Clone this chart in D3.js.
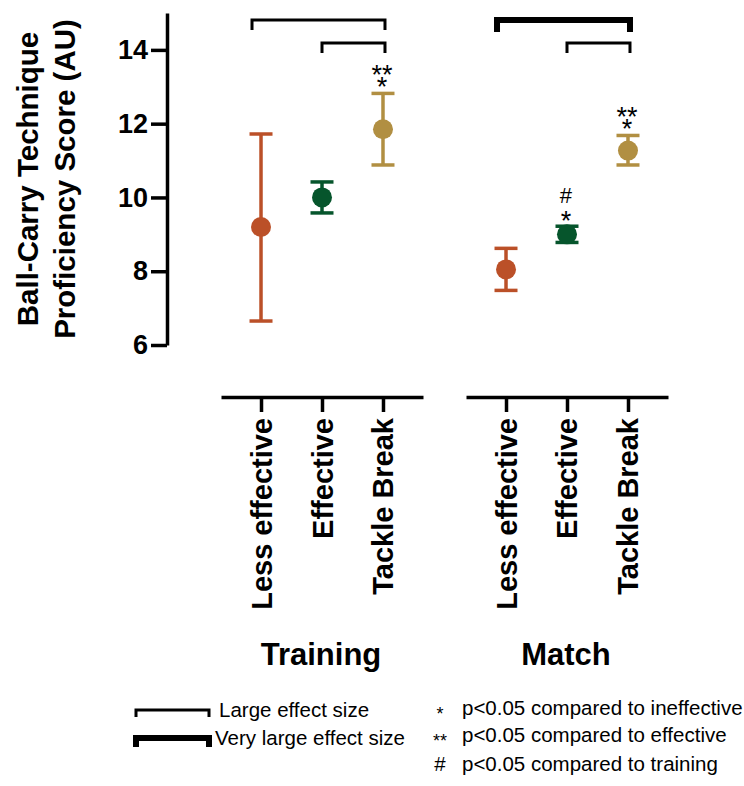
<!DOCTYPE html>
<html>
<head>
<meta charset="utf-8">
<script src="https://cdn.jsdelivr.net/npm/d3@7"></script>
<style>
  body { margin: 0; background: #fff; }
  svg { display: block; font-family: "Liberation Sans", Arial, sans-serif; }
</style>
</head>
<body>
<script>
// values
const groups = ["Training", "Match"];
const categories = ["Less effective", "Effective", "Tackle Break"];
const colors = ["#bb5028", "#06552c", "#b18f42"];

const trainingMean = [9.2, 10.0, 11.85];
const trainingLow = [6.65, 9.58, 10.88];
const trainingHigh = [11.72, 10.42, 12.82];
const matchMean = [8.05, 9.0, 11.27];
const matchLow = [7.48, 8.78, 10.88];
const matchHigh = [8.62, 9.22, 11.68];

const trainingSig = [[], [], ["*", "**"]];
const matchSig = [[], ["*", "#"], ["*", "**"]];

const yTicks = [6, 8, 10, 12, 14];
const yTitle = ["Ball-Carry Technique", "Proficiency Score (AU)"];

// effect-size brackets: [group, from, to, level, effect]
const brackets = [
  ["Training", "Less effective", "Tackle Break", 0, "large"],
  ["Training", "Effective", "Tackle Break", 1, "large"],
  ["Match", "Less effective", "Tackle Break", 0, "very large"],
  ["Match", "Effective", "Tackle Break", 1, "large"]
];

const legendEffects = ["large", "very large"];
const legendEffectText = ["Large effect size", "Very large effect size"];
const legendSymbols = ["*", "**", "#"];
const legendSymbolText = ["p<0.05 compared to ineffective", "p<0.05 compared to effective", "p<0.05 compared to training"];

const width = 744, height = 786;
const strokeFor = {"large": 3, "very large": 6};

const rows = [];
groups.forEach((g, gi) => {
  const mean = gi === 0 ? trainingMean : matchMean;
  const lo = gi === 0 ? trainingLow : matchLow;
  const hi = gi === 0 ? trainingHigh : matchHigh;
  const sig = gi === 0 ? trainingSig : matchSig;
  categories.forEach((c, ci) => rows.push({group: g, cat: c, ci, mean: mean[ci], lo: lo[ci], hi: hi[ci], sig: sig[ci]}));
});

const svg = d3.select("body").append("svg")
    .attr("width", width)
    .attr("height", height);

const y = d3.scaleLinear([6, 15], [345, 13]);
const gx = d3.scaleBand(groups, [221, 668]).paddingInner(0.1755).paddingOuter(0);
const x = d3.scalePoint(categories, [0, gx.bandwidth()]).padding(0.656);
const px = d => gx(d.group) + x(d.cat);

// y axis
svg.append("g")
    .attr("transform", "translate(167,0)")
    .call(d3.axisLeft(y).tickValues(yTicks).tickSize(16).tickPadding(3).tickSizeOuter(0))
    .call(g => g.selectAll("path, line").attr("stroke", "#000").attr("stroke-width", 3.5))
    .call(g => g.selectAll("text")
      .attr("fill", "#000")
      .attr("font-size", 27)
      .attr("font-weight", "bold")
      .attr("font-family", "Liberation Sans, Arial, sans-serif"));

svg.append("g")
    .selectAll("text")
    .data(yTitle)
    .join("text")
      .attr("transform", (d, i) => `translate(${38 + i * 37},${y(10.5)}) rotate(-90)`)
      .attr("text-anchor", "middle")
      .attr("font-size", 29.5)
      .attr("font-weight", "bold")
      .text(d => d);

// bottom category axes, one per group
groups.forEach(g => {
  svg.append("g")
      .attr("transform", `translate(${gx(g)},397)`)
      .call(d3.axisBottom(x).tickSize(15).tickSizeOuter(0))
      .call(a => a.selectAll("path, line").attr("stroke", "#000").attr("stroke-width", 3.5))
      .call(a => a.selectAll("text")
        .attr("fill", "#000")
        .attr("font-size", 29)
        .attr("font-weight", "bold")
        .attr("font-family", "Liberation Sans, Arial, sans-serif")
        .attr("text-anchor", "end")
        .attr("transform", "rotate(-90)")
        .attr("x", -21)
        .attr("y", 10)
        .attr("dy", 0));

  svg.append("text")
      .attr("x", gx(g) + gx.bandwidth() / 2 - 1)
      .attr("y", 665)
      .attr("text-anchor", "middle")
      .attr("font-size", 31)
      .attr("font-weight", "bold")
      .text(g);
});

// error bars
const bars = svg.append("g")
  .selectAll("g")
  .data(rows)
  .join("g")
    .attr("stroke", d => colors[d.ci])
    .attr("fill", d => colors[d.ci])
    .attr("stroke-width", 3.5);

bars.append("line")
    .attr("x1", px).attr("x2", px)
    .attr("y1", d => y(d.lo)).attr("y2", d => y(d.hi));
bars.selectAll(".cap")
  .data(d => [d.lo, d.hi].map(v => ({v, d})))
  .join("line")
    .attr("x1", e => px(e.d) - 11.5).attr("x2", e => px(e.d) + 11.5)
    .attr("y1", e => y(e.v)).attr("y2", e => y(e.v));
bars.append("circle")
    .attr("cx", px)
    .attr("cy", d => y(d.mean))
    .attr("r", 10)
    .attr("stroke", "none");

// significance marks stacked above the upper cap (one text per stack)
svg.append("g")
  .selectAll("text")
  .data(rows.filter(d => d.sig.length))
  .join("text")
    .attr("text-anchor", "middle")
  .selectAll("tspan")
  .data(d => d.sig.map((s, k) => ({s, k, d})))
  .join("tspan")
    .attr("x", e => px(e.d) - 1)
    .attr("y", e => e.s === "#" ? y(e.d.hi) - 23 : y(e.d.hi) + 3 + (e.d.hi > 11 ? 0 : 1) - e.k * 12.5)
    .attr("font-size", e => e.s === "#" ? 22 : 27)
    .text(e => e.s);

// effect-size brackets
svg.append("g")
    .attr("fill", "none")
    .attr("stroke", "#000")
  .selectAll("path")
  .data(brackets)
  .join("path")
    .attr("stroke-width", d => strokeFor[d[4]])
    .attr("d", d => {
      const x1 = gx(d[0]) + x(d[1]) - (d[3] === 0 ? 9 : 0);
      const x2 = gx(d[0]) + x(d[2]) + 2;
      const top = 20 + d[3] * 23;
      const drop = d[4] === "very large" ? 12 : 10;
      return `M${x1},${top + drop}V${top}H${x2}V${top + drop}`;
    });

// legend
const leg = svg.append("g");
leg.selectAll("path")
  .data(legendEffects)
  .join("path")
    .attr("fill", "none")
    .attr("stroke", "#000")
    .attr("stroke-width", d => strokeFor[d])
    .attr("d", (d, i) => {
      const top = 710 + i * 28;
      return `M136,${top + (i ? 9 : 7)}V${top}H209V${top + (i ? 9 : 7)}`;
    });
leg.selectAll(".eff")
  .data(legendEffectText)
  .join("text")
    .attr("x", (d, i) => i ? 215 : 219)
    .attr("y", (d, i) => 717 + i * 28)
    .attr("font-size", 20.5)
    .text(d => d);
leg.selectAll(".sym")
  .data(legendSymbols)
  .join("text")
    .attr("x", 440)
    .attr("y", (d, i) => [715, 742, 771][i] + (d === "#" ? 0 : 5))
    .attr("text-anchor", "middle")
    .attr("font-size", d => d === "#" ? 20.5 : 18)
    .text(d => d);
leg.selectAll(".sig")
  .data(legendSymbolText)
  .join("text")
    .attr("x", 462)
    .attr("y", (d, i) => [715, 742, 771][i])
    .attr("font-size", 20.5)
    .text(d => d);
</script>
</body>
</html>
